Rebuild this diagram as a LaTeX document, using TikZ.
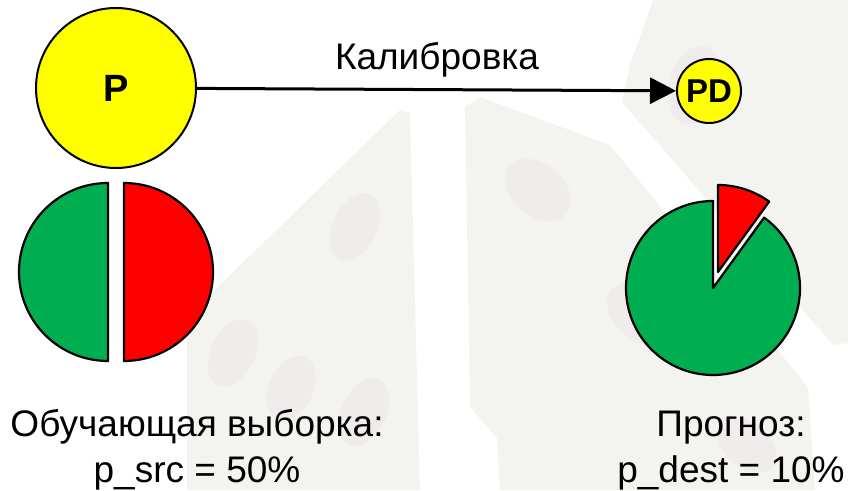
\documentclass[tikz,border=0pt]{standalone}
\usepackage{fontspec}
\setmainfont{Liberation Sans}
\usepackage{tikz}
\usetikzlibrary{arrows.meta}
\definecolor{dicegray}{HTML}{F3F3F0}
\definecolor{pipgray}{HTML}{F0ECEC}
\definecolor{piegreen}{HTML}{00AD50}
\definecolor{piered}{HTML}{FF0000}
\definecolor{ballyellow}{HTML}{FFFF00}

\tikzset{
  ball/.style={circle, draw=black, line width=2pt, fill=ballyellow, inner sep=0pt,
    font=\bfseries\fontsize{38}{38}\selectfont},
  slice/.style={draw=black, line width=2.2pt, line join=round},
  caption/.style={align=center, inner sep=0pt, font=\fontsize{37}{46}\selectfont},
}

\begin{document}
\begin{tikzpicture}[x=1pt,y=1pt]
      \useasboundingbox (0,0) rectangle (848,490);

      % dice behind everything
      \fill[dicegray] (187,0) -- (187,173) -- (400,380) -- (410,377) -- (420,0) -- cycle;
      \fill[dicegray] (470,83) -- (465,383) -- (480,393) -- (610,345) -- (808,103)
        -- (815,0) -- (500,0) -- (497,52) -- cycle;
      \fill[dicegray] (653,490) -- (848,490) -- (848,147) -- (833,145) -- (622,388)
        -- (630,425) -- cycle;
      \foreach \x/\y/\a/\rx/\ry in {355/263/-25/22/36, 233/137/-25/22/36, 291/102/-25/22/34,
                                    364/78/-25/22/36, 538/300/-40/37/26, 640/177/-40/37/26,
                                    747/45/-40/34/22, 695/405/-15/26/40} {
        \fill[pipgray, rotate around={\a:(\x,\y)}] (\x,\y) ellipse (\rx pt and \ry pt);
      }

      % calibration P -> PD
      \node[ball, minimum size=160pt] (p) at (116,402) {P};
      \node[ball, minimum size=64pt, font=\bfseries\fontsize{33}{33}\selectfont] (pd) at (709,399) {PD};
      \draw[line width=3pt, -{Triangle[length=26pt,width=26pt]}] (p) -- (pd);
      \node[anchor=base, inner sep=0pt, font=\fontsize{37}{37}\selectfont] (calib) at (437,420) {Калибровка};

      % training sample, 50/50
      \draw[slice, fill=piegreen] (108,218) ++(0,89) arc[start angle=90, end angle=270, radius=89] -- cycle;
      \draw[slice, fill=piered] (124,218) ++(0,89) arc[start angle=90, end angle=-90, radius=89] -- cycle;

      % forecast, 10 percent slice pulled out
      \draw[slice, fill=piegreen] (713,202) -- ++(90:87) arc[start angle=90, end angle=414, radius=87] -- cycle;
      \draw[slice, fill=piered] (718,218) -- ++(54:87) arc[start angle=54, end angle=90, radius=87] -- cycle;

      \node[caption] (train) at (197,40) {Обучающая выборка:\\p\_src = 50\%};
      \node[caption] (forecast) at (731,39.5) {Прогноз:\\p\_dest = 10\%};
\end{tikzpicture}
\end{document}
